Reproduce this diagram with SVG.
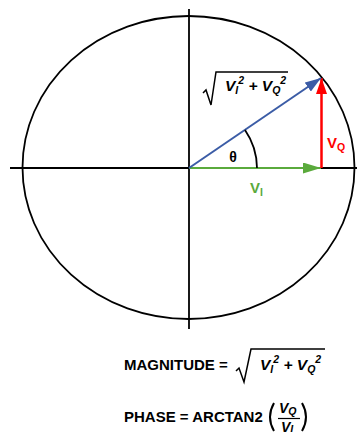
<svg xmlns="http://www.w3.org/2000/svg" width="358" height="432" viewBox="0 0 358 432">
<style>
.ax{stroke:#000;stroke-width:1.8;fill:none}
.t{font-family:"Liberation Sans",Arial,sans-serif;font-weight:bold}
.it{font-style:italic}
.sm{font-size:10.5px}
.rad{stroke:#000;stroke-width:1.5;fill:none;stroke-linejoin:miter}
</style>
<defs>
<marker id="ab" markerWidth="16" markerHeight="11" refX="16" refY="5.5" orient="auto" markerUnits="userSpaceOnUse"><path d="M0,0 L16,5.5 L0,11 Z" fill="#3b5ca6"/></marker>
<marker id="ag" markerWidth="18" markerHeight="11" refX="18" refY="5.5" orient="auto" markerUnits="userSpaceOnUse"><path d="M0,0 L18,5.5 L0,11 Z" fill="#5aaa3c"/></marker>
<marker id="ar" markerWidth="16" markerHeight="11" refX="16" refY="5.5" orient="auto" markerUnits="userSpaceOnUse"><path d="M0,0 L16,5.5 L0,11 Z" fill="#ff0000"/></marker>
</defs>
<g id="axes">
<ellipse cx="188.5" cy="167.5" rx="166" ry="151.5" class="ax" stroke-width="2"/>
<line x1="10" y1="168" x2="357" y2="168" class="ax"/>
<line x1="189" y1="9" x2="189" y2="329" class="ax"/>
</g>
<g id="connectors">
<line x1="189" y1="168" x2="321" y2="168" stroke="#5aaa3c" stroke-width="2" marker-end="url(#ag)"/>
<line x1="321.5" y1="168" x2="321.5" y2="78" stroke="#ff0000" stroke-width="2.5" marker-end="url(#ar)"/>
<line x1="189" y1="168" x2="321" y2="78" stroke="#3b5ca6" stroke-width="2" marker-end="url(#ab)"/>
<path d="M257,168 A68,68 0 0 0 245,130" class="ax" stroke-width="1.8"/>
</g>
<g id="theta"><text x="233" y="162" class="t" font-size="14" text-anchor="middle">θ</text></g>
<g id="vi-label"><text x="250" y="193" class="t" font-size="15" fill="#5aaa3c">V<tspan class="sm" dy="3">I</tspan></text></g>
<g id="vq-label"><text x="327" y="148" class="t" font-size="15" fill="#ff0000">V<tspan class="sm" dy="3">Q</tspan></text></g>
<g id="magnitude-top">
<polyline points="203,93 206,90 211,105 216,72 288,72" class="rad"/>
<text x="225" y="91" class="t it" font-size="15.5">V<tspan class="sm" dy="3">I</tspan><tspan class="sm" dy="-10">2</tspan><tspan dy="7"> + V</tspan><tspan class="sm" dy="3">Q</tspan><tspan class="sm" dy="-10">2</tspan></text>
</g>
<g id="magnitude-formula">
<text x="124" y="370" class="t" font-size="15">MAGNITUDE =</text>
<polyline points="236,371 239,368 244,382 251,349 325,349" class="rad"/>
<text x="260" y="370" class="t it" font-size="15.5">V<tspan class="sm" dy="3">I</tspan><tspan class="sm" dy="-10">2</tspan><tspan dy="7"> + V</tspan><tspan class="sm" dy="3">Q</tspan><tspan class="sm" dy="-10">2</tspan></text>
</g>
<g id="phase-formula">
<text x="124" y="422" class="t" font-size="15">PHASE = ARCTAN2</text>
<path d="M274,403 Q266,417 274,431" stroke="#000" stroke-width="2" fill="none"/>
<path d="M302,403 Q310,417 302,431" stroke="#000" stroke-width="2" fill="none"/>
<text x="279" y="413" class="t it" font-size="14">V<tspan class="sm" dy="2">Q</tspan></text>
<line x1="278" y1="418.5" x2="300" y2="418.5" stroke="#000" stroke-width="1.2"/>
<text x="281" y="432" class="t it" font-size="14">V<tspan class="sm" dy="1">I</tspan></text>
</g>
</svg>
